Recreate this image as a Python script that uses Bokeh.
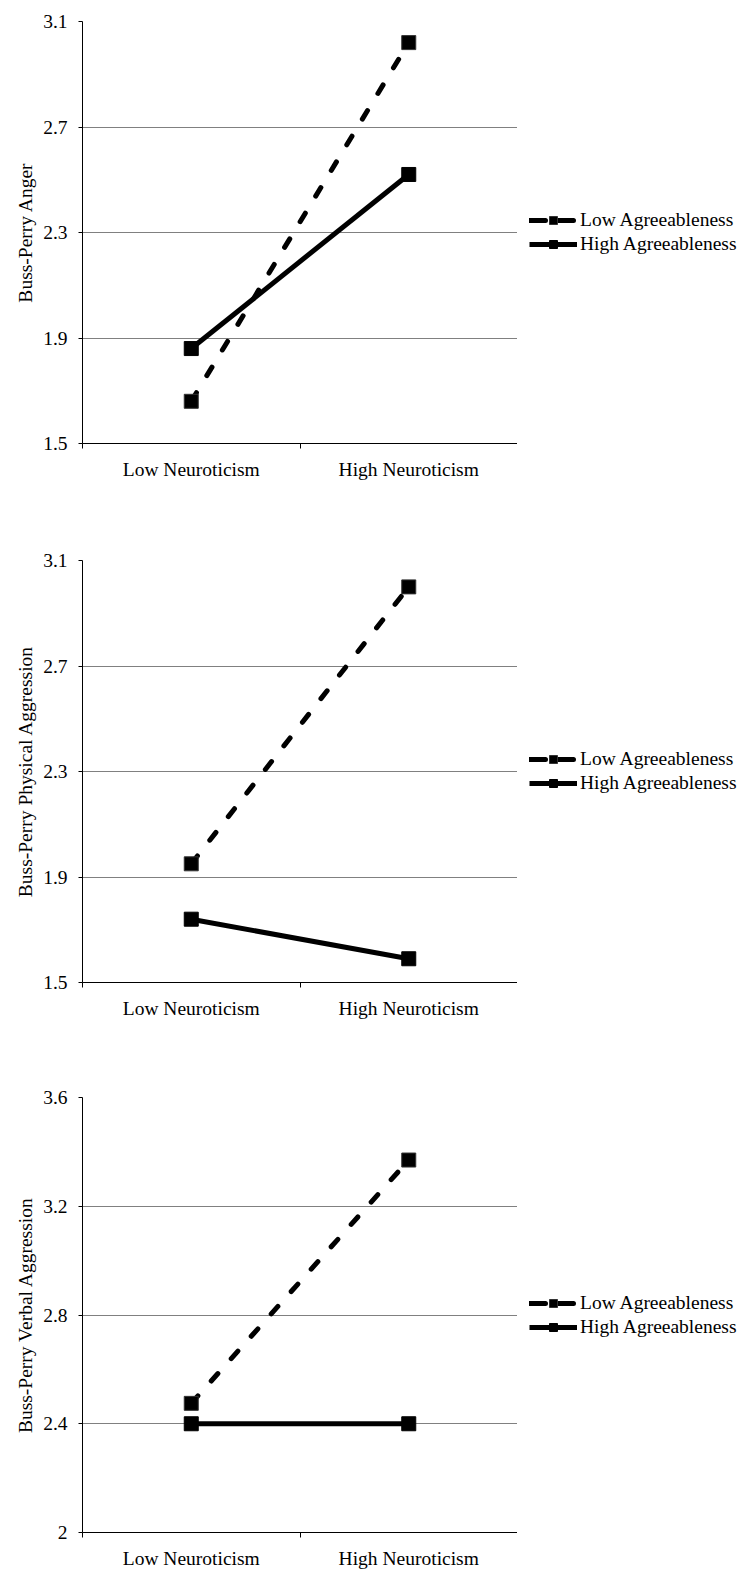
from bokeh.plotting import figure
from bokeh.models import Range1d, FixedTicker, Legend, LegendItem
from bokeh.layouts import column, row
from bokeh.embed import file_html
from bokeh.resources import INLINE

# ---- data ----
categories = ["Low Neuroticism", "High Neuroticism"]
series_names = ["Low Agreeableness", "High Agreeableness"]

anger_low_agree = [1.66, 3.02]
anger_high_agree = [1.86, 2.52]
physical_low_agree = [1.95, 3.00]
physical_high_agree = [1.74, 1.59]
verbal_low_agree = [2.475, 3.37]
verbal_high_agree = [2.40, 2.40]

y_titles = ["Buss-Perry Anger", "Buss-Perry Physical Aggression", "Buss-Perry Verbal Aggression"]
ticks_12 = [1.5, 1.9, 2.3, 2.7, 3.1]
labels_12 = ["1.5", "1.9", "2.3", "2.7", "3.1"]
ticks_3 = [2.0, 2.4, 2.8, 3.2, 3.6]
labels_3 = ["2", "2.4", "2.8", "3.2", "3.6"]

FONT = "Liberation Serif"
FS = "19.5px"
LEFT = 82
FRAME_W = 435
TOP = 21
LEG_W = 750 - LEFT - FRAME_W

DASH = dict(line_color="black", line_width=5, line_dash="10 20", line_cap="round")
LEG_DASH = dict(line_color="black", line_width=5, line_dash="16 12", line_cap="round")
SOLID = dict(line_color="black", line_width=5)
MARK_LOW = dict(marker="square", size=14, fill_color="black", line_color="#333333")
MARK_HIGH = dict(marker="square", size=14, fill_color="black", line_color="black")
NAN = float("nan")


def make_panel(title, low_vals, high_vals, yticks, ylabels, height, frame_h):
    xs = [i + 0.5 for i in range(len(categories))]
    bounds = list(range(len(categories) + 1))
    bottom = height - TOP - frame_h
    p = figure(width=LEFT + FRAME_W, height=height, output_backend="svg",
               toolbar_location=None,
               x_range=Range1d(0, len(categories)), y_range=Range1d(yticks[0], yticks[-1]),
               min_border_left=LEFT, min_border_top=TOP,
               min_border_bottom=bottom, min_border_right=0)
    p.outline_line_color = None
    p.background_fill_color = "white"
    p.border_fill_color = "white"

    # x axis
    xa = p.xaxis[0]
    xa.ticker = FixedTicker(ticks=xs, minor_ticks=bounds)
    xa.major_label_overrides = dict(zip(xs, categories))
    xa.major_tick_out = 0
    xa.major_tick_in = 0
    xa.minor_tick_out = 5
    xa.minor_tick_in = 0
    xa.minor_tick_line_color = "black"
    xa.axis_line_color = "black"
    xa.major_label_text_font = FONT
    xa.major_label_text_font_size = FS
    xa.major_label_text_color = "black"
    xa.major_label_standoff = 10

    # y axis
    ya = p.yaxis[0]
    ya.ticker = FixedTicker(ticks=yticks, minor_ticks=[])
    ya.major_label_overrides = dict(zip(yticks, ylabels))
    ya.major_tick_out = 4
    ya.major_tick_in = 0
    ya.major_tick_line_color = "black"
    ya.axis_line_color = "black"
    ya.major_label_text_font = FONT
    ya.major_label_text_font_size = FS
    ya.major_label_text_color = "black"
    ya.major_label_standoff = 11
    ya.axis_label = title
    ya.axis_label_text_font = FONT
    ya.axis_label_text_font_size = FS
    ya.axis_label_text_font_style = "normal"
    ya.axis_label_text_color = "black"
    ya.axis_label_standoff = 4

    p.xgrid.grid_line_color = None
    p.ygrid.ticker = FixedTicker(ticks=yticks, minor_ticks=[])
    p.ygrid.grid_line_color = "#808080"
    p.ygrid.grid_line_width = 1

    p.line(xs, low_vals, **DASH)
    p.scatter(xs, low_vals, **MARK_LOW)
    p.line(xs, high_vals, **SOLID)
    p.scatter(xs, high_vals, **MARK_HIGH)

    # legend in a companion figure to the right of the frame
    lg = figure(width=LEG_W, height=height, output_backend="svg", toolbar_location=None,
                x_range=Range1d(0, 1), y_range=Range1d(0, 1),
                min_border_left=0, min_border_right=0,
                min_border_top=TOP, min_border_bottom=bottom,
                x_axis_type=None, y_axis_type=None)
    lg.outline_line_color = None
    lg.grid.visible = False
    l1 = lg.line([NAN], [NAN], **LEG_DASH)
    s1 = lg.scatter([NAN], [NAN], **MARK_LOW)
    l2 = lg.line([NAN], [NAN], **SOLID)
    s2 = lg.scatter([NAN], [NAN], **MARK_HIGH)
    legend = Legend(items=[LegendItem(label=series_names[0], renderers=[l1, s1]),
                           LegendItem(label=series_names[1], renderers=[l2, s2])],
                    location="left",
                    orientation="vertical",
                    margin=12, padding=0, spacing=2,
                    glyph_width=48, glyph_height=20, label_height=20,
                    label_standoff=3,
                    label_text_font=FONT, label_text_font_size=FS,
                    label_text_color="black",
                    border_line_color=None, background_fill_alpha=0)
    lg.add_layout(legend, "center")
    return row(p, lg, spacing=0)


r1 = make_panel(y_titles[0], anger_low_agree, anger_high_agree, ticks_12, labels_12, 539, 422)
r2 = make_panel(y_titles[1], physical_low_agree, physical_high_agree, ticks_12, labels_12, 537, 422)
r3 = make_panel(y_titles[2], verbal_low_agree, verbal_high_agree, ticks_3, labels_3, 497, 435)

layout = column(r1, r2, r3, spacing=0)
open("out.html", "w").write(file_html(layout, INLINE))
